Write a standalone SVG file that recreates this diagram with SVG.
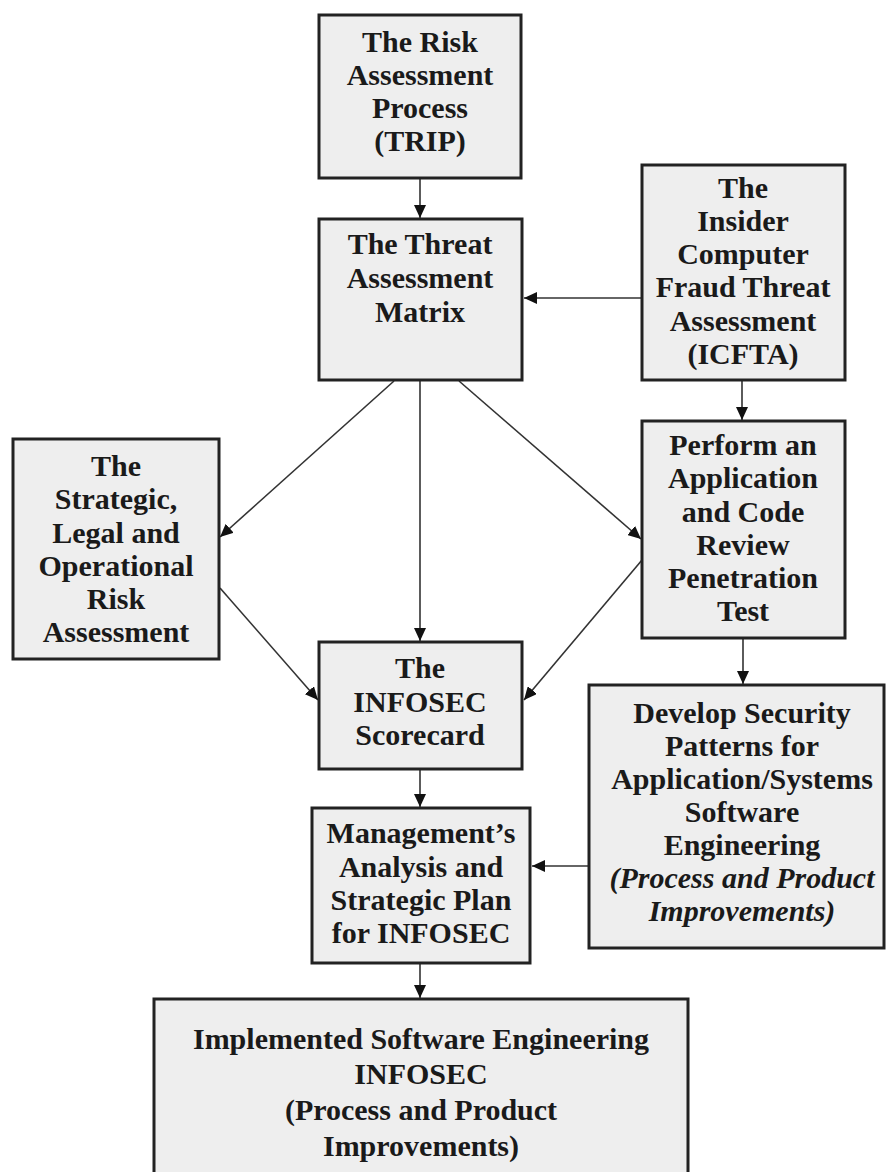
<svg xmlns="http://www.w3.org/2000/svg" width="886" height="1172" viewBox="0 0 886 1172">
<style>
.box{fill:#eeeeee;stroke:#222;stroke-width:3}
.t{font-family:"Liberation Serif","Times New Roman",serif;font-weight:bold;font-size:30px;fill:#1a1a1a;text-anchor:middle}
.i{font-style:italic}
.c{stroke:#333;stroke-width:1.6;fill:none;marker-end:url(#ah)}
</style>
<defs>
<marker id="ah" markerUnits="userSpaceOnUse" markerWidth="14" markerHeight="12" refX="13" refY="6" orient="auto">
<path d="M0,0 L13,6 L0,12 z" fill="#111"/>
</marker>
</defs>
<rect width="886" height="1172" fill="#fff"/>
<g id="connectors">
<line class="c" x1="420" y1="178" x2="420" y2="218"/>
<line class="c" x1="642" y1="298" x2="524" y2="298"/>
<line class="c" x1="742" y1="380" x2="742" y2="420"/>
<line class="c" x1="394" y1="381" x2="220" y2="537"/>
<line class="c" x1="420" y1="380" x2="420" y2="641"/>
<line class="c" x1="459" y1="381" x2="641" y2="539"/>
<line class="c" x1="220" y1="588" x2="318" y2="700"/>
<line class="c" x1="642" y1="560" x2="524" y2="700"/>
<line class="c" x1="743" y1="638" x2="743" y2="684"/>
<line class="c" x1="420" y1="769" x2="420" y2="807"/>
<line class="c" x1="589" y1="866" x2="532" y2="866"/>
<line class="c" x1="420" y1="963" x2="420" y2="998"/>
</g>
<g id="trip">
<rect class="box" x="319" y="15" width="202" height="163"/>
<text class="t" x="420" y="52">The Risk</text>
<text class="t" x="420" y="85">Assessment</text>
<text class="t" x="420" y="118">Process</text>
<text class="t" x="420" y="151">(TRIP)</text>
</g>
<g id="threat">
<rect class="box" x="319" y="219" width="203" height="161"/>
<text class="t" x="420" y="254">The Threat</text>
<text class="t" x="420" y="288">Assessment</text>
<text class="t" x="420" y="322">Matrix</text>
</g>
<g id="icfta">
<rect class="box" x="642" y="165" width="203" height="215"/>
<text class="t" x="743" y="198">The</text>
<text class="t" x="743" y="231">Insider</text>
<text class="t" x="743" y="264">Computer</text>
<text class="t" x="743" y="297">Fraud Threat</text>
<text class="t" x="743" y="331">Assessment</text>
<text class="t" x="743" y="364">(ICFTA)</text>
</g>
<g id="strategic">
<rect class="box" x="13" y="439" width="206" height="220"/>
<text class="t" x="116" y="476">The</text>
<text class="t" x="116" y="509">Strategic,</text>
<text class="t" x="116" y="543">Legal and</text>
<text class="t" x="116" y="576">Operational</text>
<text class="t" x="116" y="609">Risk</text>
<text class="t" x="116" y="642">Assessment</text>
</g>
<g id="perform">
<rect class="box" x="642" y="421" width="203" height="217"/>
<text class="t" x="743" y="455">Perform an</text>
<text class="t" x="743" y="488">Application</text>
<text class="t" x="743" y="522">and Code</text>
<text class="t" x="743" y="555">Review</text>
<text class="t" x="743" y="588">Penetration</text>
<text class="t" x="743" y="621">Test</text>
</g>
<g id="scorecard">
<rect class="box" x="319" y="642" width="203" height="127"/>
<text class="t" x="420" y="678">The</text>
<text class="t" x="420" y="712">INFOSEC</text>
<text class="t" x="420" y="745">Scorecard</text>
</g>
<g id="management">
<rect class="box" x="312" y="808" width="218" height="155"/>
<text class="t" x="421" y="843">Management’s</text>
<text class="t" x="421" y="877">Analysis and</text>
<text class="t" x="421" y="910">Strategic Plan</text>
<text class="t" x="421" y="943">for INFOSEC</text>
</g>
<g id="develop">
<rect class="box" x="589" y="685" width="295" height="263"/>
<text class="t" x="742" y="723">Develop Security</text>
<text class="t" x="742" y="756">Patterns for</text>
<text class="t" x="742" y="789">Application/Systems</text>
<text class="t" x="742" y="822">Software</text>
<text class="t" x="742" y="855">Engineering</text>
<text class="t i" x="742" y="888">(Process and Product</text>
<text class="t i" x="742" y="921">Improvements)</text>
</g>
<g id="implemented">
<rect class="box" x="154" y="999" width="534" height="190"/>
<text class="t" x="421" y="1049">Implemented Software Engineering</text>
<text class="t" x="421" y="1084">INFOSEC</text>
<text class="t" x="421" y="1120">(Process and Product</text>
<text class="t" x="421" y="1156">Improvements)</text>
</g>
</svg>
